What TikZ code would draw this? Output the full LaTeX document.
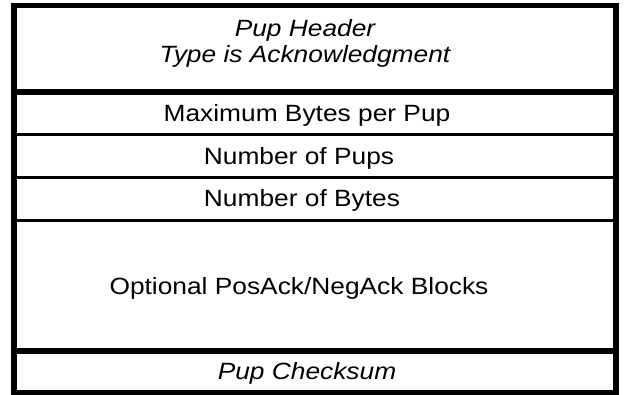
\documentclass[tikz,border=0pt]{standalone}
\usepackage{fontspec}
\setmainfont{Liberation Sans}[FakeStretch=1.12]
\tikzset{
	frame/.style={line width=5.5pt},
	rule/.style={line width=3pt},
	thickrule/.style={line width=6pt},
	field/.style={anchor=base, inner sep=0pt, font=\fontsize{23.5}{26}\selectfont}
}
\begin{document}
\begin{tikzpicture}[x=1pt,y=-1pt]
	\useasboundingbox (0,0) rectangle (625,395);
	\draw[frame] (13.75,5.5) rectangle (616,392.5);
	\draw[thickrule] (13.75,92) -- (616,92);
	\draw[rule] (13.75,134.2) -- (616,134.2);
	\draw[rule] (13.75,177.5) -- (616,177.5);
	\draw[rule] (13.75,220.2) -- (616,220.2);
	\draw[thickrule] (13.75,351) -- (616,351);
	\node[field] (hdr) at (305,36.5) {\itshape Pup Header};
	\node[field] (hdrtype) at (305,62.5) {\itshape Type is Acknowledgment};
	\node[field] (maxbytes) at (307,122) {Maximum Bytes per Pup};
	\node[field] (npups) at (299,164.3) {Number of Pups};
	\node[field] (nbytes) at (302,206.6) {Number of Bytes};
	\node[field] (blocks) at (299,295) {Optional PosAck/NegAck Blocks};
	\node[field] (cksum) at (307,380) {\itshape Pup Checksum};
\end{tikzpicture}
\end{document}
